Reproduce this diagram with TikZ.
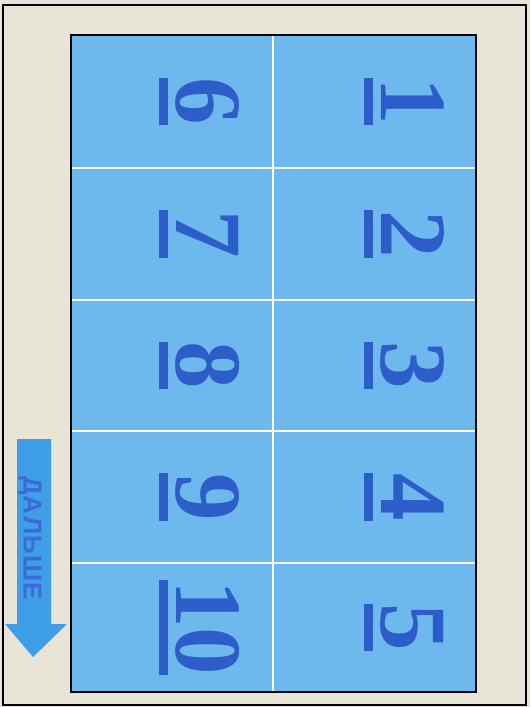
\documentclass[tikz,border=0pt]{standalone}
\usepackage{fontspec}
\setmainfont{Liberation Serif}
\newfontfamily\arrowfont{Liberation Sans}
\definecolor{paper}{HTML}{E9E4D8}
\definecolor{cellblue}{HTML}{6DB9EE}
\definecolor{digitblue}{HTML}{2C5DC9}
\definecolor{arrowblue}{HTML}{3E9FE6}
\definecolor{arrowtext}{HTML}{3D6AD6}
\newcommand{\numul}[1]{\setbox0\hbox{#1}\rlap{\rule[-17pt]{\wd0}{9pt}}\box0}
\tikzset{
  numlabel/.style={rotate=-90, anchor=base, inner sep=0pt, text=digitblue,
    font=\fontsize{95}{95}\selectfont\bfseries},
  gridline/.style={white, line width=1.2pt}
}
\begin{document}
\begin{tikzpicture}[x=1pt,y=-1pt]
\useasboundingbox (0,0) rectangle (530,707);
\fill[paper] (0,0) rectangle (530,707);
\draw[black, line width=1.6pt] (3,5) rectangle (526,705);
% blue panel
\fill[cellblue] (71,35) rectangle (476,692);
\foreach \yy in {168,300,431,563} \draw[gridline] (71,\yy) -- (476,\yy);
\draw[gridline] (273,35) -- (273,692);
\draw[black, line width=1.3pt] (71,35) rectangle (476,692);
% numbers
\node[numlabel] (n1) at (381,101.5) {\numul{1}};
\node[numlabel] (n2) at (381,234) {\numul{2}};
\node[numlabel] (n3) at (381,365.5) {\numul{3}};
\node[numlabel] (n4) at (381,497) {\numul{4}};
\node[numlabel] (n5) at (381,627.5) {\numul{5}};
\node[numlabel] (n6) at (176,101.5) {\numul{6}};
\node[numlabel] (n7) at (176,234) {\numul{7}};
\node[numlabel] (n8) at (176,365.5) {\numul{8}};
\node[numlabel] (n9) at (176,497) {\numul{9}};
\node[numlabel] (n10) at (176,627.5) {\numul{10}};
% arrow
\fill[arrowblue] (17,439) -- (51,439) -- (51,624) -- (67,624) -- (33,657) -- (5,624) -- (17,624) -- cycle;
\node[rotate=-90, inner sep=0pt, text=arrowtext, font=\arrowfont\bfseries\fontsize{26}{26}\selectfont] (next) at (30,538) {\addfontfeature{LetterSpace=4}ДАЛЬШЕ};
\end{tikzpicture}
\end{document}
